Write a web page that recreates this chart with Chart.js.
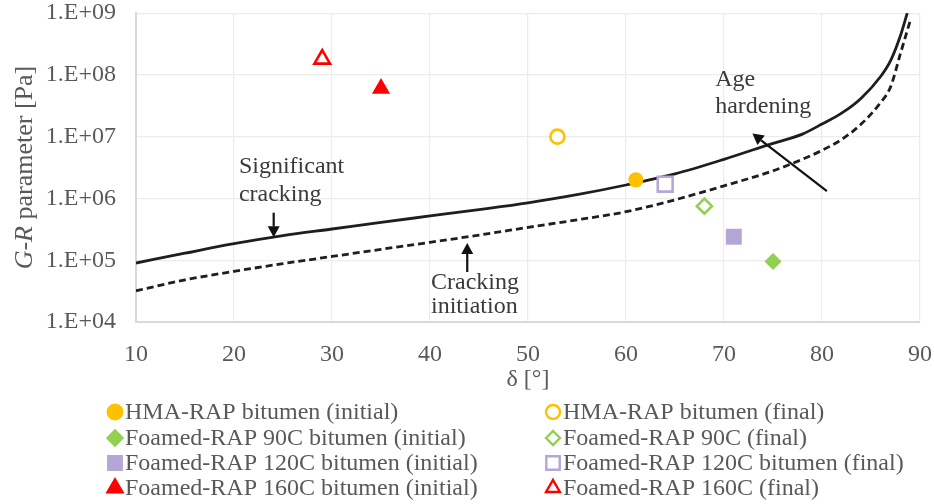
<!DOCTYPE html>
<html>
<head>
<meta charset="utf-8">
<script src="https://cdn.jsdelivr.net/npm/chart.js@4.4.1/dist/chart.umd.min.js"></script>
<style>
  html, body { margin: 0; padding: 0; background: #fff; }
  #caixa { width: 934px; height: 504px; }
</style>
</head>
<body>
<div id="caixa"><canvas id="graficoGR" width="934" height="504"></canvas></div>
<script>
// curva contínua: fissuração significativa
const deltaSignificativa = [10, 15, 20, 25, 30, 35, 40, 45, 50, 55, 60, 65, 70, 75, 78, 80, 82, 84, 86, 87, 88, 88.7];
const grSignificativa = [9.0e4, 1.3e5, 1.85e5, 2.5e5, 3.2e5, 4.1e5, 5.2e5, 6.6e5, 8.5e5, 1.15e6, 1.65e6, 2.5e6, 4.3e6, 7.8e6, 1.1e7, 1.6e7, 2.4e7, 4.2e7, 9.5e7, 1.7e8, 4.3e8, 1.0e9];

// curva tracejada: início da fissuração
const deltaInicio = [10, 15, 20, 25, 30, 35, 40, 45, 50, 55, 60, 65, 70, 75, 78, 80, 82, 84, 86, 87, 88, 89];
const grInicio = [3.2e4, 4.8e4, 6.6e4, 8.8e4, 1.15e5, 1.5e5, 1.95e5, 2.55e5, 3.4e5, 4.5e5, 6.1e5, 9.5e5, 1.6e6, 2.8e6, 4.3e6, 6.0e6, 9.0e6, 1.6e7, 3.6e7, 6.4e7, 2.2e8, 7.5e8];

// amostras de betume
const nomesAmostras = [
  'HMA-RAP bitumen (initial)', 'HMA-RAP bitumen (final)',
  'Foamed-RAP 90C bitumen (initial)', 'Foamed-RAP 90C (final)',
  'Foamed-RAP 120C bitumen (initial)', 'Foamed-RAP 120C bitumen (final)',
  'Foamed-RAP 160C bitumen (initial)', 'Foamed-RAP 160C (final)'
];
const deltaAmostras = [61, 53, 75, 68, 71, 64, 35, 29];
const grAmostras = [2.0e6, 1.0e7, 9.5e4, 7.5e5, 2.4e5, 1.7e6, 6.0e7, 1.8e8];

// eixos
const ticksY = [1e4, 1e5, 1e6, 1e7, 1e8, 1e9];
const rotulosY = ['1.E+04', '1.E+05', '1.E+06', '1.E+07', '1.E+08', '1.E+09'];

const FONTE = '"Liberation Serif", "Times New Roman", serif';
const CINZA = '#595959';
const TAM = 24;

// estilo de cada marcador (cor, forma, cheio ou vazio, raio)
const estilos = [
  { cor: '#FFC000', forma: 'circle', cheio: true, r: 7.5, rl: 8 },
  { cor: '#FFC000', forma: 'circle', cheio: false, r: 7, rl: 7 },
  { cor: '#92D050', forma: 'rectRot', cheio: true, r: 8.5, rl: 7.5 },
  { cor: '#92D050', forma: 'rectRot', cheio: false, r: 7.5, rl: 7 },
  { cor: '#B4A7D6', forma: 'rect', cheio: true, r: 11.3, rl: 9.5 },
  { cor: '#B4A7D6', forma: 'rect', cheio: false, r: 10.5, rl: 9.5 },
  { cor: '#FF0000', forma: 'triangle', cheio: true, r: 10.5, rl: 8.7 },
  { cor: '#FF0000', forma: 'triangle', cheio: false, r: 9, rl: 8 }
];

const pares = (xs, ys) => xs.map((x, i) => ({ x: x, y: ys[i] }));

const datasets = [
  {
    type: 'line',
    label: 'Significant cracking',
    data: pares(deltaSignificativa, grSignificativa),
    borderColor: '#1e1e1e',
    borderWidth: 2.8,
    pointRadius: 0,
    showLine: true,
    cubicInterpolationMode: 'monotone',
    order: 2
  },
  {
    type: 'line',
    label: 'Cracking initiation',
    data: pares(deltaInicio, grInicio),
    borderColor: '#1e1e1e',
    borderWidth: 2.8,
    borderDash: [7, 4],
    pointRadius: 0,
    showLine: true,
    cubicInterpolationMode: 'monotone',
    order: 2
  }
];

nomesAmostras.forEach((nome, i) => {
  const e = estilos[i];
  datasets.push({
    label: nome,
    legenda: e,
    data: [{ x: deltaAmostras[i], y: grAmostras[i] }],
    pointStyle: e.forma,
    pointRadius: e.r,
    pointHoverRadius: e.r,
    backgroundColor: e.cheio ? e.cor : '#ffffff',
    borderColor: e.cor,
    pointBorderWidth: e.cheio ? 0 : 2.6,
    borderWidth: e.cheio ? 0 : 2.6,
    showLine: false,
    order: 1
  });
});

// anotações do gráfico (em coordenadas dos dados)
const textos = [
  { linhas: ['Significant', 'cracking'], x: 20.5, y: [Math.pow(10, 6.51), Math.pow(10, 6.06)] },
  { linhas: ['Cracking', 'initiation'], x: 40.1, y: [Math.pow(10, 4.63), Math.pow(10, 4.24)] },
  { linhas: ['Age', 'hardening'], x: 69.1, y: [Math.pow(10, 7.92), Math.pow(10, 7.49)] }
];
const setas = [
  { de: [24.05, Math.pow(10, 5.77)], para: [24.05, Math.pow(10, 5.37)] },
  { de: [43.8, Math.pow(10, 4.81)], para: [43.8, Math.pow(10, 5.28)] },
  { de: [80.5, Math.pow(10, 6.12)], para: [72.9, Math.pow(10, 7.05)] }
];

function desenharPonto(ctx, forma, r, x, y) {
  if (Chart.helpers && Chart.helpers.drawPoint) {
    Chart.helpers.drawPoint(ctx, { pointStyle: forma, radius: r, borderWidth: ctx.lineWidth, rotation: 0 }, x, y);
    return;
  }
  ctx.beginPath();
  ctx.arc(x, y, r, 0, Math.PI * 2);
  ctx.fill();
  if (ctx.lineWidth > 0) ctx.stroke();
}

const pluginExtras = {
  id: 'extras',
  afterDatasetsDraw(chart) {
    const ctx = chart.ctx;
    const sx = chart.scales.x, sy = chart.scales.y;
    ctx.save();

    // textos
    ctx.fillStyle = '#3a3a3a';
    ctx.font = TAM + 'px ' + FONTE;
    ctx.textAlign = 'left';
    ctx.textBaseline = 'middle';
    textos.forEach(t => {
      t.linhas.forEach((l, k) => {
        ctx.fillText(l, sx.getPixelForValue(t.x), sy.getPixelForValue(t.y[k]));
      });
    });

    // setas
    ctx.strokeStyle = '#111';
    ctx.fillStyle = '#111';
    ctx.lineWidth = 2.2;
    setas.forEach(s => {
      const x0 = sx.getPixelForValue(s.de[0]), y0 = sy.getPixelForValue(s.de[1]);
      const x1 = sx.getPixelForValue(s.para[0]), y1 = sy.getPixelForValue(s.para[1]);
      const ang = Math.atan2(y1 - y0, x1 - x0);
      const tam = 11, larg = 6;
      const bx = x1 - Math.cos(ang) * tam, by = y1 - Math.sin(ang) * tam;
      ctx.beginPath();
      ctx.moveTo(x0, y0);
      ctx.lineTo(bx, by);
      ctx.stroke();
      ctx.beginPath();
      ctx.moveTo(x1, y1);
      ctx.lineTo(bx - Math.sin(ang) * larg, by + Math.cos(ang) * larg);
      ctx.lineTo(bx + Math.sin(ang) * larg, by - Math.cos(ang) * larg);
      ctx.closePath();
      ctx.fill();
    });
    ctx.restore();
  },
  afterDraw(chart) {
    const ctx = chart.ctx;
    ctx.save();

    // título do eixo Y com G e R em itálico
    const partes = [
      { t: 'G', it: true }, { t: '-', it: false }, { t: 'R', it: true }, { t: ' parameter [Pa]', it: false }
    ];
    const fonteNormal = '26px ' + FONTE, fonteItalico = 'italic 26px ' + FONTE;
    let total = 0;
    partes.forEach(p => { ctx.font = p.it ? fonteItalico : fonteNormal; p.w = ctx.measureText(p.t).width; total += p.w; });
    const ca = chart.chartArea;
    ctx.translate(25, (ca.top + ca.bottom) / 2);
    ctx.rotate(-Math.PI / 2);
    ctx.fillStyle = CINZA;
    ctx.textBaseline = 'middle';
    ctx.textAlign = 'left';
    let px = -total / 2;
    partes.forEach(p => { ctx.font = p.it ? fonteItalico : fonteNormal; ctx.fillText(p.t, px, 0); px += p.w; });
    ctx.setTransform(1, 0, 0, 1, 0, 0);

    // legenda em duas colunas
    const colunas = [115, 553];
    const linhas = [412, 438, 463, 488];
    ctx.font = TAM + 'px ' + FONTE;
    ctx.textBaseline = 'middle';
    chart.data.datasets.filter(d => d.legenda).forEach((d, i) => {
      const e = d.legenda;
      const cx = colunas[i % 2], cy = linhas[Math.floor(i / 2)];
      ctx.fillStyle = e.cheio ? e.cor : '#ffffff';
      ctx.strokeStyle = e.cor;
      ctx.lineWidth = e.cheio ? 0 : 2.4;
      desenharPonto(ctx, e.forma, e.rl, cx, cy);
      ctx.fillStyle = CINZA;
      ctx.fillText(d.label, cx + 10, cy + 1);
    });
    ctx.restore();
  }
};

new Chart(document.getElementById('graficoGR').getContext('2d'), {
  type: 'scatter',
  data: { datasets: datasets },
  plugins: [pluginExtras],
  options: {
    responsive: false,
    animation: false,
    layout: { padding: { left: 0, right: 14, top: 13, bottom: 110 } },
    plugins: { legend: { display: false }, tooltip: { enabled: false } },
    scales: {
      x: {
        type: 'linear',
        min: 10,
        max: 90,
        ticks: { stepSize: 10, color: CINZA, padding: 18, font: { family: FONTE, size: TAM } },
        grid: { color: '#ececec', lineWidth: 1.2, drawTicks: false },
        border: { color: '#d9d9d9', width: 2 },
        title: { display: true, text: 'δ [°]', color: CINZA, padding: 0, font: { family: FONTE, size: TAM } },
        afterFit(escala) { escala.height = 72; escala.paddingLeft = 0; escala.paddingRight = 0; }
      },
      y: {
        type: 'logarithmic',
        min: 1e4,
        max: 1e9,
        afterBuildTicks(escala) { escala.ticks = ticksY.map(v => ({ value: v })); },
        ticks: {
          color: CINZA,
          padding: 20,
          font: { family: FONTE, size: TAM },
          callback: (valor) => rotulosY[ticksY.indexOf(valor)] || ''
        },
        grid: { color: '#ececec', lineWidth: 1.2, drawTicks: false },
        border: { color: '#d9d9d9', width: 2 },
        afterFit(escala) { escala.width = 136; escala.paddingTop = 0; escala.paddingBottom = 0; }
      }
    }
  }
});
</script>
</body>
</html>
